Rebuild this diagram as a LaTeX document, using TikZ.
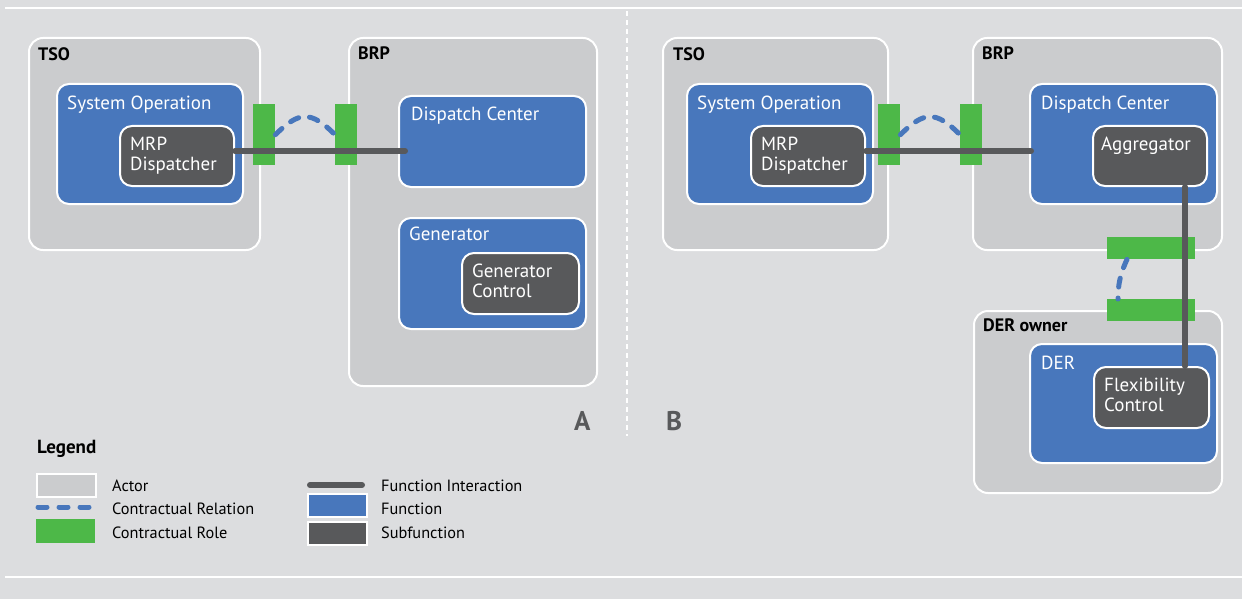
\documentclass[tikz,border=0pt]{standalone}
\usepackage{fontspec}
\setmainfont{PT Sans}
\usetikzlibrary{positioning}
\definecolor{bggrey}{HTML}{DCDDDF}
\definecolor{actorgrey}{HTML}{CBCCCE}
\definecolor{funcblue}{HTML}{4877BC}
\definecolor{subgrey}{HTML}{58595B}
\definecolor{rolegreen}{HTML}{4DB848}

\begin{document}
\begin{tikzpicture}[
  x=1pt, y=-1pt,
  font=\fontsize{19}{20}\selectfont,
  boxbase/.style={draw=white, line width=2pt, anchor=north west, inner sep=0pt},
  actor/.style={boxbase, fill=actorgrey, rounded corners=14pt},
  func/.style={boxbase, fill=funcblue, rounded corners=12pt},
  subfunc/.style={boxbase, fill=subgrey, rounded corners=12pt},
  role/.style={fill=rolegreen, anchor=north west, inner sep=0pt},
  actorlab/.style={inner sep=0pt, font=\fontsize{18}{20}\selectfont\bfseries},
  funclab/.style={inner sep=0pt, text=white, align=left},
  interact/.style={line width=6pt, draw=subgrey, line cap=round},
  contract/.style={line width=5pt, draw=funcblue, dash pattern=on 9pt off 11pt, line cap=round},
  panellab/.style={inner sep=0pt, text=subgrey, font=\fontsize{27}{30}\selectfont\bfseries},
  leglab/.style={anchor=west, inner sep=0pt, font=\fontsize{16.3}{18}\selectfont}
]
% background and frame lines
\fill[bggrey] (0,0) rectangle (1242,599);
\useasboundingbox (0,0) rectangle (1242,599);
\draw[white, line width=2pt] (5,8) -- (1242,8);
\draw[white, line width=2pt] (5,577) -- (1242,577);
\draw[white, line width=2pt, dash pattern=on 5pt off 4pt] (627,11) -- (627,436);

% ---- panel A ----
\node[actor, minimum width=231pt, minimum height=212pt] (tsoA) at (28,37) {};
\node[actor, minimum width=248pt, minimum height=348pt] (brpA) at (348,37) {};
\node[func, minimum width=186pt, minimum height=120pt] (sysopA) at (56,83) {};
\node[subfunc, minimum width=114pt, minimum height=60pt] (mrpA) at (119,125) {};
\node[func, minimum width=187pt, minimum height=91pt] (dispA) at (398,95) {};
\node[func, minimum width=187pt, minimum height=111pt] (genA) at (398,217) {};
\node[subfunc, minimum width=117pt, minimum height=61pt] (genctlA) at (461,252) {};

\node[actorlab, below right=10pt and 10pt of tsoA.north west] {TSO};
\node[actorlab, below right=10pt and 10pt of brpA.north west] {BRP};
\node[funclab, below right=13pt and 11pt of sysopA.north west] {System Operation};
\node[funclab, below right=12pt and 11pt of mrpA.north west] {MRP\\Dispatcher};
\node[funclab, below right=12pt and 13pt of dispA.north west] {Dispatch Center};
\node[funclab, below right=10pt and 11pt of genA.north west] {Generator};
\node[funclab, below right=12pt and 11pt of genctlA.north west] {Generator\\Control};

\node[role, minimum width=22pt, minimum height=61pt] (roleA1) at (253,104) {};
\node[role, minimum width=22pt, minimum height=61pt] (roleA2) at (335,104) {};
\draw[contract] (roleA1.east) .. controls +(24,-24) and +(-24,-24) .. (roleA2.west);
\draw[interact] ([yshift=5pt]mrpA.east) -- ([xshift=7pt,yshift=5pt]mrpA.east -| dispA.west);

\node[panellab, anchor=north west] at (574,411) {A};

% ---- panel B ----
\node[actor, minimum width=225pt, minimum height=212pt] (tsoB) at (662,37) {};
\node[actor, minimum width=249pt, minimum height=212pt] (brpB) at (972,37) {};
\node[actor, minimum width=248pt, minimum height=182pt] (derownB) at (973,310) {};
\node[func, minimum width=186pt, minimum height=120pt] (sysopB) at (686,83) {};
\node[subfunc, minimum width=114pt, minimum height=60pt] (mrpB) at (750,125) {};
\node[func, minimum width=187pt, minimum height=120pt] (dispB) at (1029,83) {};
\node[subfunc, minimum width=114pt, minimum height=60pt] (aggB) at (1092,125) {};
\node[func, minimum width=187pt, minimum height=119pt] (derB) at (1029,343) {};
\node[subfunc, minimum width=115pt, minimum height=61pt] (flexB) at (1093,366) {};

\node[actorlab, below right=10pt and 11pt of tsoB.north west] {TSO};
\node[actorlab, below right=10pt and 10pt of brpB.north west] {BRP};
\node[actorlab, below right=9pt and 10pt of derownB.north west] {DER owner};
\node[funclab, below right=13pt and 11pt of sysopB.north west] {System Operation};
\node[funclab, below right=12pt and 11pt of mrpB.north west] {MRP\\Dispatcher};
\node[funclab, below right=13pt and 12pt of dispB.north west] {Dispatch Center};
\node[funclab, below right=12pt and 9pt of aggB.north west] {Aggregator};
\node[funclab, below right=13pt and 12pt of derB.north west] {DER};
\node[funclab, below right=12pt and 11pt of flexB.north west] {Flexibility\\Control};

\node[role, minimum width=22pt, minimum height=61pt] (roleB1) at (878,104) {};
\node[role, minimum width=22pt, minimum height=61pt] (roleB2) at (960,104) {};
\node[role, minimum width=88pt, minimum height=22pt] (roleB3) at (1107,237) {};
\node[role, minimum width=88pt, minimum height=22pt] (roleB4) at (1107,299) {};
\draw[contract] (roleB1.east) .. controls +(24,-24) and +(-24,-24) .. (roleB2.west);
\draw[contract] ([xshift=20pt]roleB3.south west) .. controls +(-7,15) and +(0,-14) .. ([xshift=11pt]roleB4.north west);
\draw[interact] ([yshift=5pt]mrpB.east) -- ([xshift=2pt,yshift=5pt]mrpB.east -| dispB.west);
\draw[interact] ([xshift=-23pt]aggB.south east) -- ([xshift=-23pt]aggB.south east |- flexB.north);

\node[panellab, anchor=north west] at (666,411) {B};

% ---- legend ----
\node[actorlab, anchor=north west, font=\fontsize{19}{20}\selectfont\bfseries] (legend) at (37,440) {Legend};
\node[boxbase, fill=actorgrey, minimum width=59pt, minimum height=23pt] (legactor) at (36,473) {};
\coordinate (legdashA) at (38,507);
\coordinate (legdashB) at (93,507);
\draw[contract, dash pattern=on 9pt off 12pt] (legdashA) -- (legdashB);
\node[role, minimum width=59pt, minimum height=24pt] (legrole) at (36,519) {};
\node[leglab] at (112,486) {Actor};
\node[leglab] at (112,509) {Contractual Relation};
\node[leglab] at (112,533) {Contractual Role};

\coordinate (leglineA) at (310,485);
\coordinate (leglineB) at (362,485);
\draw[interact] (leglineA) -- (leglineB);
\node[boxbase, fill=funcblue, minimum width=59pt, minimum height=23pt] (legfunc) at (307,493) {};
\node[boxbase, fill=subgrey, minimum width=59pt, minimum height=23pt] (legsub) at (307,521) {};
\node[leglab] at (381,486) {Function Interaction};
\node[leglab] at (381,509) {Function};
\node[leglab] at (381,533) {Subfunction};
\end{tikzpicture}
\end{document}
